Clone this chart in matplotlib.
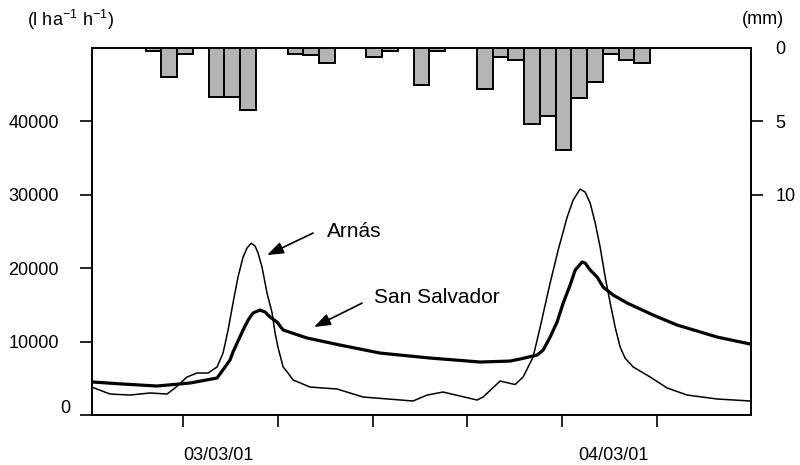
import numpy as np
import matplotlib
matplotlib.use('Agg')
import matplotlib.pyplot as plt

plt.rcParams['font.family'] = ['Liberation Sans', 'DejaVu Sans']
plt.rcParams['mathtext.fontset'] = 'custom'
plt.rcParams['mathtext.rm'] = 'Liberation Sans'

# Caudal (l ha-1 h-1), tiempo en horas
arnas_h = [0.2, 1.34, 2.61, 3.88, 4.96, 5.46, 6.23, 6.86, 7.56, 8.13, 8.51, 8.83, 9.14,
           9.46, 9.78, 10.03, 10.29, 10.54, 10.73, 10.98, 11.30, 11.62, 11.81, 11.99,
           12.32, 12.63, 12.95, 14.03, 15.74, 17.39, 20.56, 21.45, 22.46, 24.62, 25.00,
           26.08, 27.03, 27.54, 28.17, 28.62, 29.25, 29.76, 30.33, 30.71, 31.15, 31.47,
           31.79, 32.11, 32.42, 32.74, 33.06, 33.37, 33.69, 34.0, 34.52, 35.59, 36.67,
           37.94, 39.84, 41.94]
arnas_q = [3800, 2860, 2720, 3000, 2860, 3680, 5180, 5720, 5720, 6540, 8440, 11580, 15250,
           18800, 21520, 22750, 23400, 23020, 22060, 20160, 16600, 13900, 11170, 9260,
           6540, 5720, 4770, 3810, 3540, 2450, 1910, 2720, 3130, 2040, 2450,
           4630, 4150, 5180, 7900, 11990, 17980, 22470, 26970, 29280, 30780, 30370,
           28870, 26150, 22880, 18800, 15250, 11990, 9260, 7760, 6540, 5180, 3680,
           2720, 2180, 1910]

salvador_h = [0.2, 2.17, 4.32, 6.42, 8.13, 8.95, 9.14, 9.78, 10.10, 10.41, 10.86, 11.17,
              11.49, 11.93, 12.32, 13.84, 15.93, 18.47, 21.64, 24.81, 26.71, 27.35, 28.43,
              28.81, 29.25, 29.69, 30.08, 30.52, 30.84, 31.28, 31.47, 31.79, 32.23, 32.61,
              33.25, 34.14, 35.78, 37.30, 39.84, 41.94]
salvador_q = [4500, 4220, 3950, 4360, 5040, 7490, 8580, 11580, 12940, 13900, 14300, 14030,
              13350, 12670, 11580, 10490, 9530, 8440, 7760, 7220, 7350, 7630, 8170,
              8850, 10620, 12670, 15250, 17710, 19750, 20840, 20700, 19750, 18800, 17430,
              16340, 15250, 13620, 12260, 10620, 9670]

# Lluvia horaria (mm)
lluvia_h = [3.6, 4.6, 5.6, 7.6, 8.6, 9.6, 12.6, 13.6, 14.6, 17.6, 18.6, 20.6, 21.6,
            24.6, 25.6, 26.6, 27.6, 28.6, 29.6, 30.6, 31.6, 32.6, 33.6, 34.6]
lluvia_mm = [0.2, 2.0, 0.4, 3.35, 3.35, 4.2, 0.4, 0.45, 1.0, 0.6, 0.2, 2.55, 0.2,
             2.8, 0.6, 0.8, 5.2, 4.6, 6.95, 3.4, 2.35, 0.4, 0.85, 1.05]

fechas = ['03/03/01', '04/03/01']
fechas_h = [8.19, 33.25]
ticks_h = [6, 12, 18, 24, 30, 36]

fig = plt.figure(figsize=(8, 4.65), dpi=100)
ax = fig.add_axes([0.115, 0.1075, 0.824, 0.7893])

ax.plot(arnas_h, arnas_q, color='black', linewidth=1.1, solid_joinstyle='round')
ax.plot(salvador_h, salvador_q, color='black', linewidth=2.3, solid_joinstyle='round')

ax.set_xlim(0.2, 42)
ax.set_ylim(0, 50000)
ax.set_yticks([0, 10000, 20000, 30000, 40000])
ax.set_yticklabels(['', '10000', '20000', '30000', '40000'])
ax.yaxis.get_major_ticks()[0].tick1line.set_visible(False)
ax.tick_params(axis='y', direction='out', length=9, width=1.2, pad=15, labelsize=13)
ax.annotate('0', xy=(0, 0), xycoords=ax.get_yaxis_transform(), xytext=(-22, 7),
            textcoords='offset pixels', ha='right', va='center', fontsize=13)

ax.set_xticks(ticks_h)
ax.set_xticklabels([])
ax.tick_params(axis='x', which='major', direction='out', length=8.5, width=1.2)
ax.set_xticks(fechas_h, minor=True)
ax.set_xticklabels(fechas, minor=True)
ax.tick_params(axis='x', which='minor', length=0, pad=23, labelsize=13)

for s in ax.spines.values():
    s.set_linewidth(1.2)

# Lluvia en eje secundario invertido
ax2 = ax.twinx()
ax2.bar(lluvia_h, lluvia_mm, width=1.0, align='edge', color='#b4b4b4',
        edgecolor='black', linewidth=1.4)
ax2.set_ylim(25, 0)
ax2.set_yticks([0, 5, 10])
ax2.yaxis.get_major_ticks()[0].tick2line.set_visible(False)
ax2.tick_params(axis='y', direction='out', length=8.5, width=1.2, pad=9, labelsize=13)
for s in ax2.spines.values():
    s.set_linewidth(1.2)

# Etiquetas con flechas
flecha = dict(arrowstyle='-|>,head_length=0.55,head_width=0.2', color='black',
              lw=1.2, shrinkA=0, shrinkB=0, mutation_scale=18)
ax.annotate('', xy=(11.30, 21790), xytext=(14.22, 24790), arrowprops=flecha)
ax.text(15.11, 25060, 'Arnás', ha='left', va='center', fontsize=15)
ax.annotate('', xy=(14.28, 11990), xytext=(17.33, 15250), arrowprops=flecha)
ax.text(18.09, 16070, 'San Salvador', ha='left', va='center', fontsize=15)

fig.text(71 / 800, 1 - 20 / 465, '(l ha$^{-1}$ h$^{-1}$)', ha='center', va='center', fontsize=13)
fig.text(763 / 800, 1 - 20 / 465, '(mm)', ha='center', va='center', fontsize=13)

fig.savefig('out.png', dpi=100)
